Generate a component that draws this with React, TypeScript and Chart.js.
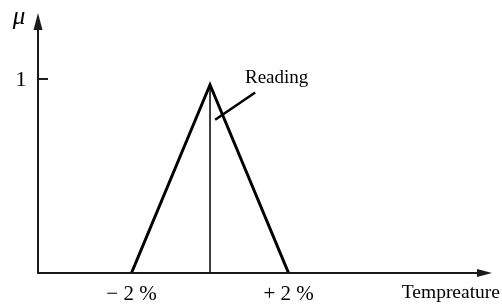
import React, { useEffect, useRef } from "react";
import { Chart, registerables } from "chart.js";

Chart.register(...registerables);

// Membership function (triangle) in data units
const triangleX = [-2, 0, 2];
const triangleY = [0, 0.97, 0];
// Vertical "reading" line
const readingX = [0, 0];
const readingY = [0, 0.97];
// Leader line for the "Reading" note
const leaderX = [0.13, 1.15];
const leaderY = [0.79, 0.93];
const noteText = "Reading";
const notePos = [0.89, 1.005];

const xTickValues = [-2, 2];
const xTickLabels = ["− 2 %", "+ 2 %"];
const yTickValues = [1];
const yTickLabels = ["1"];
const xAxisTitle = "Tempreature";
const yAxisTitle = "μ";

const FONT = "'Liberation Serif', 'Times New Roman', serif";

const toPoints = (xs: number[], ys: number[]) => xs.map((x, i) => ({ x, y: ys[i] }));

const axesPlugin = {
  id: "customAxes",
  afterDraw(chart: any) {
    const { ctx, chartArea, scales } = chart;
    const xs = scales.x;
    const ys = scales.y;
    const left = chartArea.left;
    const right = chartArea.right;
    const top = chartArea.top;
    const bottom = chartArea.bottom;
    ctx.save();
    ctx.strokeStyle = "#1a1a1a";
    ctx.fillStyle = "#1a1a1a";
    ctx.lineWidth = 2;
    // y axis
    ctx.beginPath();
    ctx.moveTo(left, bottom);
    ctx.lineTo(left, top + 12);
    ctx.stroke();
    ctx.beginPath();
    ctx.moveTo(left, top);
    ctx.lineTo(left - 4.5, top + 17);
    ctx.lineTo(left + 4.5, top + 17);
    ctx.closePath();
    ctx.fill();
    // x axis
    ctx.beginPath();
    ctx.moveTo(left - 1, bottom);
    ctx.lineTo(right - 10, bottom);
    ctx.stroke();
    ctx.beginPath();
    ctx.moveTo(right, bottom);
    ctx.lineTo(right - 15, bottom - 4);
    ctx.lineTo(right - 15, bottom + 4);
    ctx.closePath();
    ctx.fill();

    // y ticks
    ctx.lineWidth = 2;
    ctx.textBaseline = "middle";
    ctx.fillStyle = "#000";
    yTickValues.forEach((v, i) => {
      const py = ys.getPixelForValue(v);
      ctx.beginPath();
      ctx.moveTo(left, py);
      ctx.lineTo(left + 10, py);
      ctx.stroke();
      ctx.font = `22px ${FONT}`;
      ctx.textAlign = "center";
      ctx.fillText(yTickLabels[i], left - 17, py + 1);
    });
    // x tick labels
    ctx.font = `21px ${FONT}`;
    ctx.textAlign = "center";
    xTickValues.forEach((v, i) => {
      const px = xs.getPixelForValue(v);
      ctx.fillText(xTickLabels[i], px, bottom + 21);
    });
    // x axis title
    ctx.font = `19.5px ${FONT}`;
    ctx.textAlign = "right";
    ctx.fillText(xAxisTitle, chart.width - 2, bottom + 20);
    // y axis title
    ctx.font = `italic 25px ${FONT}`;
    ctx.textAlign = "center";
    ctx.fillText(yAxisTitle, left - 19, top + 4);
    // note
    ctx.font = `19px ${FONT}`;
    ctx.textAlign = "left";
    ctx.fillText(noteText, xs.getPixelForValue(notePos[0]), ys.getPixelForValue(notePos[1]));
    ctx.restore();
  },
};

export default function App() {
  const ref = useRef<HTMLCanvasElement | null>(null);
  useEffect(() => {
    document.body.style.margin = "0";
    const canvas = ref.current!;
    const chart = new Chart(canvas, {
      type: "scatter",
      data: {
        datasets: [
          {
            data: toPoints(triangleX, triangleY),
            showLine: true,
            borderColor: "#000",
            borderWidth: 3,
            pointRadius: 0,
            tension: 0,
          },
          {
            data: toPoints(readingX, readingY),
            showLine: true,
            borderColor: "#000",
            borderWidth: 1.5,
            pointRadius: 0,
          },
          {
            data: toPoints(leaderX, leaderY),
            showLine: true,
            borderColor: "#000",
            borderWidth: 2.5,
            pointRadius: 0,
          },
        ],
      },
      options: {
        animation: false,
        responsive: false,
        maintainAspectRatio: false,
        layout: { padding: { left: 38, right: 10, top: 13, bottom: 32 } },
        plugins: { legend: { display: false }, tooltip: { enabled: false } },
        scales: {
          x: { type: "linear", min: -4.38, max: 7.18, display: false },
          y: { type: "linear", min: 0, max: 1.34, display: false },
        },
      },
      plugins: [axesPlugin],
    });
    return () => chart.destroy();
  }, []);
  return (
    <div style={{ width: 502, height: 305, background: "#fff" }}>
      <canvas ref={ref} width={502} height={305} style={{ display: "block" }} />
    </div>
  );
}
